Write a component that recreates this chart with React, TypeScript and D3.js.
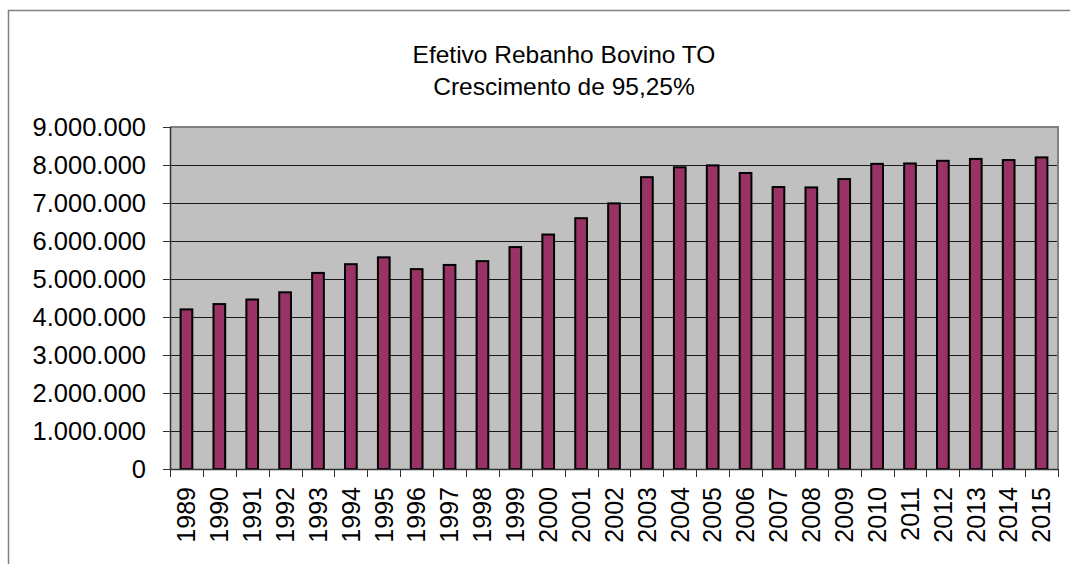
import React, { useEffect, useRef } from 'react';
import * as d3 from 'd3';

const years = [
  '1989', '1990', '1991', '1992', '1993', '1994', '1995', '1996', '1997', '1998',
  '1999', '2000', '2001', '2002', '2003', '2004', '2005', '2006', '2007', '2008',
  '2009', '2010', '2011', '2012', '2013', '2014', '2015',
];
const rebanho = [
  4200000, 4340000, 4460000, 4650000, 5160000, 5390000, 5570000, 5260000, 5370000, 5470000,
  5840000, 6170000, 6600000, 6990000, 7680000, 7940000, 7990000, 7790000, 7420000, 7410000,
  7630000, 8030000, 8040000, 8110000, 8160000, 8130000, 8200000,
];
const yTicks = [0, 1000000, 2000000, 3000000, 4000000, 5000000, 6000000, 7000000, 8000000, 9000000];
const titleLines = ['Efetivo Rebanho Bovino TO', 'Crescimento de 95,25%'];

const W = 1070;
const H = 564;
const FONT = 'Arial, "Liberation Sans", Helvetica, sans-serif';

// 9.000.000 style labels
const fmt = (v: number) => v === 0 ? '0' : d3.format(',')(v).replace(/,/g, '.');

const App: React.FC = () => {
  const svgRef = useRef<SVGSVGElement | null>(null);

  useEffect(() => {
    if (!svgRef.current) return;
    const svg = d3.select(svgRef.current);
    svg.selectAll('*').remove();

    const plot = { left: 170, right: 1058, top: 127, bottom: 469 };

    const x = d3.scaleBand<string>().domain(years).range([plot.left, plot.right]).padding(0);
    const y = d3.scaleLinear().domain([0, 9000000]).range([plot.bottom, plot.top]);

    // outer chart frame (runs off the page on the right / bottom)
    svg.append('rect')
      .attr('x', 8.5).attr('y', 10.5)
      .attr('width', W + 40).attr('height', H + 40)
      .attr('fill', '#fff')
      .attr('stroke', '#808080')
      .attr('stroke-width', 1.5);

    // title
    const title = svg.append('text')
      .attr('x', 564)
      .attr('text-anchor', 'middle')
      .style('font-family', FONT)
      .style('font-size', '24.5px')
      .style('fill', '#000');
    titleLines.forEach((t, i) => {
      title.append('tspan').attr('x', 564).attr('y', 63 + i * 32).text(t);
    });

    // plot area
    svg.append('rect')
      .attr('x', plot.left).attr('y', plot.top)
      .attr('width', plot.right - plot.left).attr('height', plot.bottom - plot.top)
      .attr('fill', '#c0c0c0');

    // gridlines
    svg.append('g')
      .selectAll('line')
      .data(yTicks.filter(d => d > 0 && d < 9000000))
      .enter().append('line')
      .attr('x1', plot.left).attr('x2', plot.right)
      .attr('y1', d => Math.round(y(d)) + 0.5).attr('y2', d => Math.round(y(d)) + 0.5)
      .attr('stroke', '#1a1a1a')
      .attr('stroke-width', 1);

    // plot border top / right (gray)
    svg.append('path')
      .attr('d', `M${plot.left},${plot.top} H${plot.right} V${plot.bottom}`)
      .attr('fill', 'none')
      .attr('stroke', '#808080')
      .attr('stroke-width', 2);

    // bars
    const barW = x.bandwidth() / 2.4;
    svg.append('g')
      .selectAll('rect')
      .data(rebanho)
      .enter().append('rect')
      .attr('x', (d, i) => (x(years[i]) as number) + (x.bandwidth() - barW) / 2 + 1)
      .attr('y', d => y(d))
      .attr('width', barW - 2)
      .attr('height', d => plot.bottom - y(d))
      .attr('fill', '#993366')
      .attr('stroke', '#000')
      .attr('stroke-width', 2);

    // y axis
    const yAxis = svg.append('g');
    yAxis.append('line')
      .attr('x1', plot.left + 0.5).attr('x2', plot.left + 0.5)
      .attr('y1', plot.top).attr('y2', plot.bottom)
      .attr('stroke', '#333').attr('stroke-width', 1.5);
    yAxis.selectAll('line.tick')
      .data(yTicks)
      .enter().append('line')
      .attr('class', 'tick')
      .attr('x1', plot.left - 7).attr('x2', plot.left)
      .attr('y1', d => Math.round(y(d)) + 0.5).attr('y2', d => Math.round(y(d)) + 0.5)
      .attr('stroke', '#333').attr('stroke-width', 1);
    yAxis.selectAll('text')
      .data(yTicks)
      .enter().append('text')
      .attr('x', 146)
      .attr('y', d => y(d))
      .attr('dy', '0.35em')
      .attr('text-anchor', 'end')
      .style('font-family', FONT)
      .style('font-size', '25.5px')
      .style('fill', '#000')
      .text(d => fmt(d));

    // x axis
    const xAxis = svg.append('g');
    xAxis.append('line')
      .attr('x1', plot.left).attr('x2', plot.right)
      .attr('y1', plot.bottom + 0.5).attr('y2', plot.bottom + 0.5)
      .attr('stroke', '#333').attr('stroke-width', 1.5);
    const bounds = years.map(yr => x(yr) as number).concat([plot.right]);
    xAxis.selectAll('line.tick')
      .data(bounds)
      .enter().append('line')
      .attr('class', 'tick')
      .attr('x1', d => Math.round(d) + 0.5).attr('x2', d => Math.round(d) + 0.5)
      .attr('y1', plot.bottom).attr('y2', plot.bottom + 8)
      .attr('stroke', '#333').attr('stroke-width', 1);
    xAxis.selectAll('text')
      .data(years)
      .enter().append('text')
      .attr('transform', d => `translate(${(x(d) as number) + x.bandwidth() / 2},${plot.bottom + 18}) rotate(-90)`)
      .attr('dy', '0.35em')
      .attr('text-anchor', 'end')
      .style('font-family', FONT)
      .style('font-size', '25px')
      .style('fill', '#000')
      .text(d => d);
  }, []);

  return (
    <svg
      ref={svgRef}
      width={W}
      height={H}
      style={{ position: 'absolute', left: 0, top: 0, background: '#fff' }}
    />
  );
};

export default App;
